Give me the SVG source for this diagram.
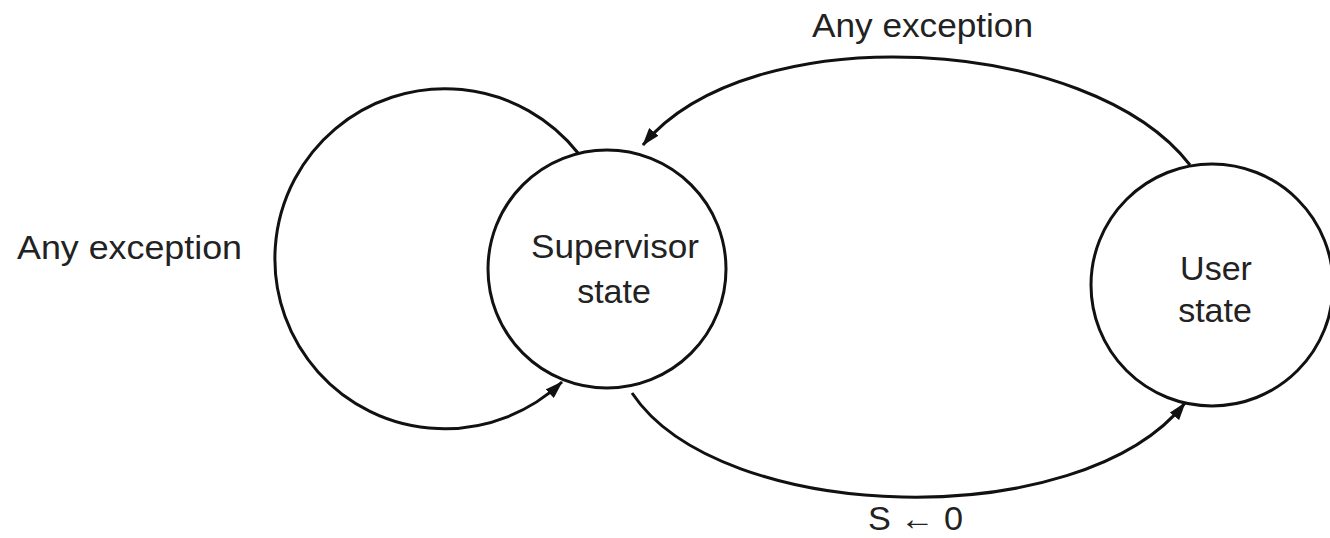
<svg xmlns="http://www.w3.org/2000/svg" width="1330" height="538" viewBox="0 0 1330 538">
  <style>
    .state { fill: #fff; stroke: #111; stroke-width: 3; }
    .edge { fill: none; stroke: #111; stroke-width: 3; }
    .label { font-family: "Liberation Sans", Arial, sans-serif; font-size: 34px; fill: #222; }
    .mid { text-anchor: middle; }
  </style>
  <defs>
    <marker id="arrow" markerUnits="userSpaceOnUse" markerWidth="18" markerHeight="12" refX="17" refY="6" orient="auto">
      <path d="M0,0 L18,6 L0,12 z" fill="#111"/>
    </marker>
  </defs>

  <!-- transitions -->
  <g id="connectors">
    <!-- self loop on the supervisor state -->
    <path class="edge" d="M578,153 A170,170 0 1 0 562,382" marker-end="url(#arrow)"/>
    <!-- user -> supervisor -->
    <path class="edge" d="M1190,165 C1090,35 750,15 643,145" marker-end="url(#arrow)"/>
    <!-- supervisor -> user -->
    <path class="edge" d="M632,393 C720,525 1080,535 1185,403" marker-end="url(#arrow)"/>
  </g>

  <g id="supervisor">
    <circle class="state" cx="607" cy="269" r="119"/>
    <text class="label mid" x="615" y="258" textLength="168" lengthAdjust="spacingAndGlyphs">Supervisor</text>
    <text class="label mid" x="614" y="303">state</text>
  </g>

  <g id="user">
    <circle class="state" cx="1212" cy="285" r="121"/>
    <text class="label mid" x="1216" y="280">User</text>
    <text class="label mid" x="1215" y="322">state</text>
  </g>

  <g id="labels">
    <text class="label" x="17" y="259" textLength="225" lengthAdjust="spacingAndGlyphs">Any exception</text>
    <text class="label" x="812" y="37" textLength="221" lengthAdjust="spacingAndGlyphs">Any exception</text>
    <text class="label" x="868" y="530" textLength="95" lengthAdjust="spacingAndGlyphs">S ← 0</text>
  </g>
</svg>
